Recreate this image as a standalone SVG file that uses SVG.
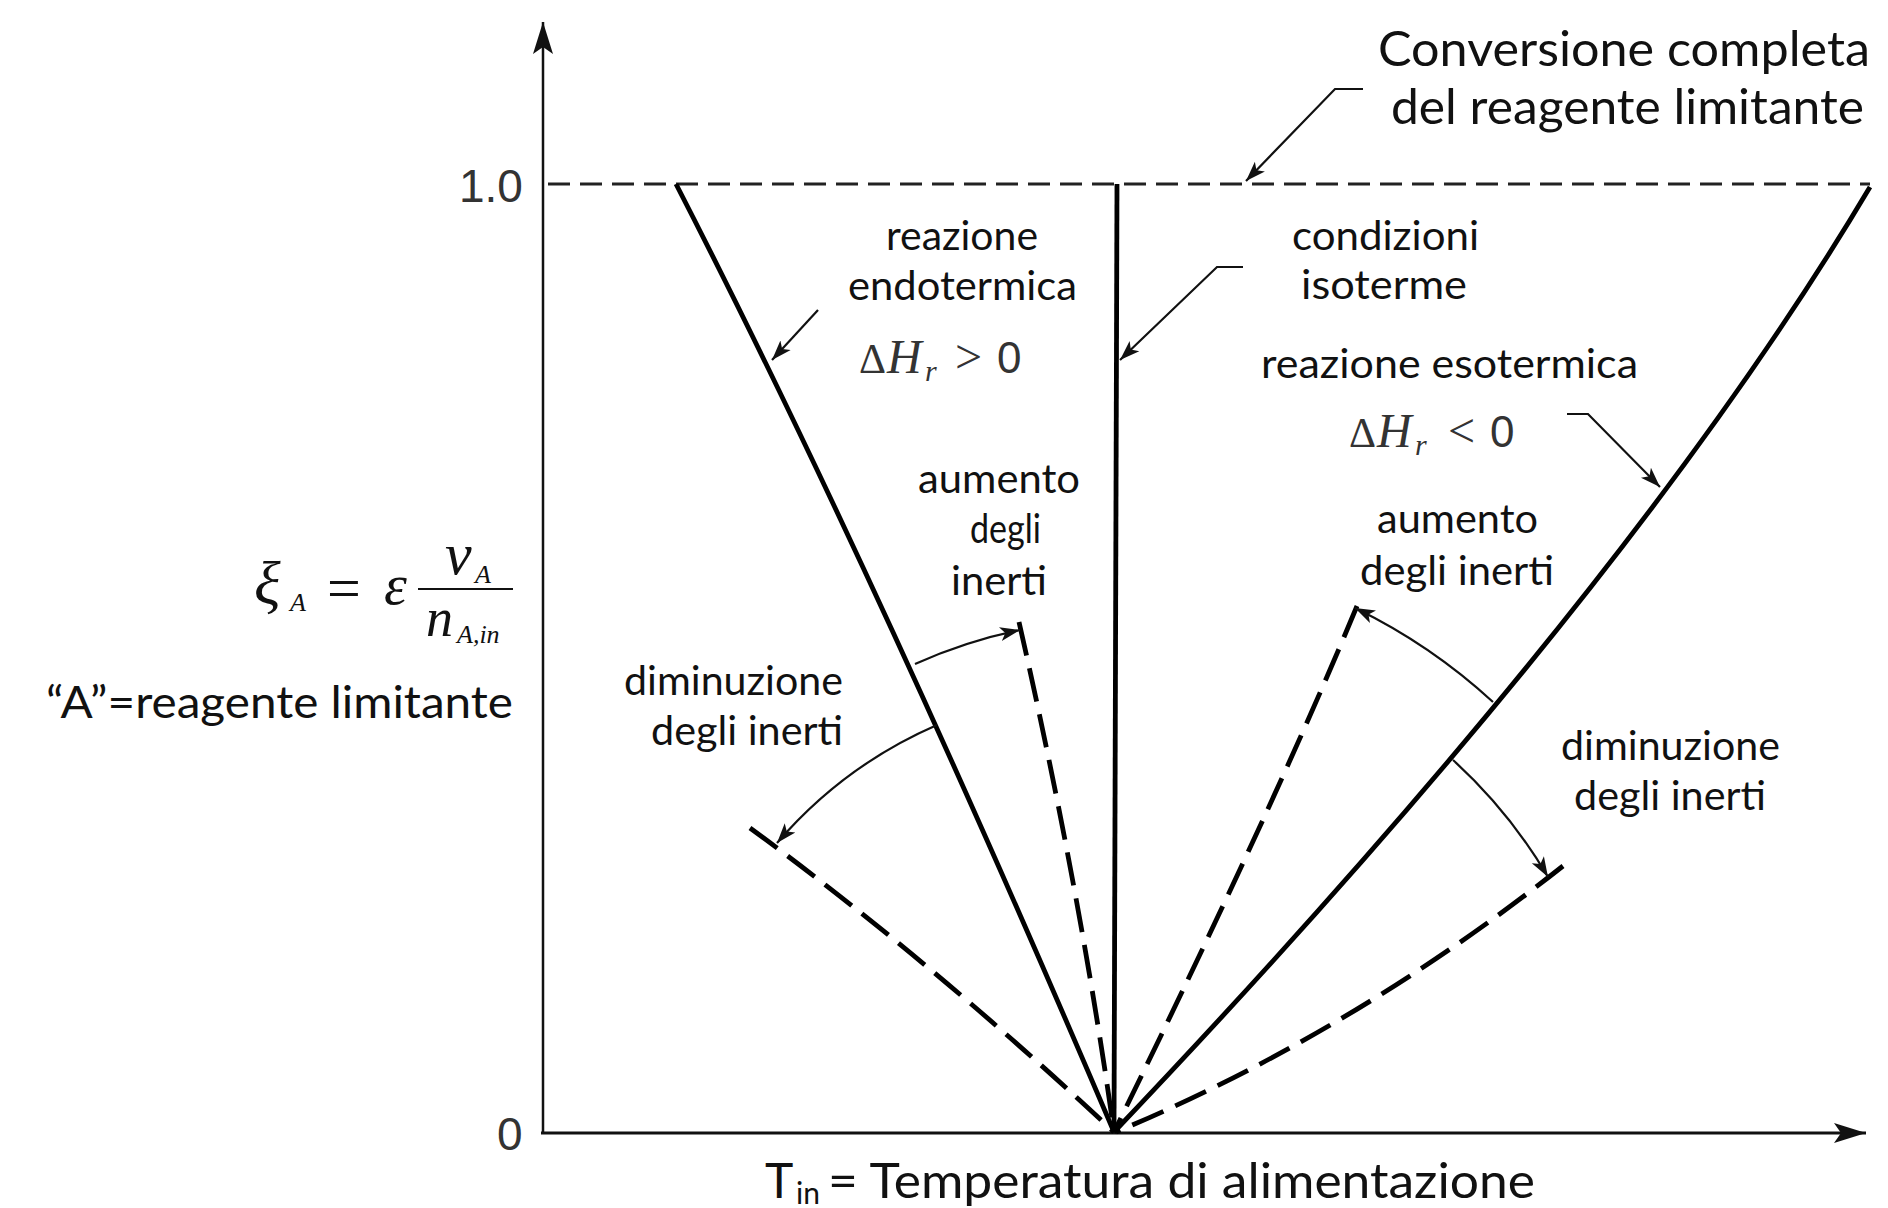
<svg xmlns="http://www.w3.org/2000/svg" width="1888" height="1208" viewBox="0 0 1888 1208">
<style>
.lbl{font-family:Lato,"Open Sans","Liberation Sans",sans-serif;font-size:40px;fill:#111}
.big{font-size:48px}
.num{font-family:"Liberation Sans",Arial,sans-serif;font-size:46px;fill:#333}
.math{font-family:"Liberation Serif","Times New Roman",serif;fill:#111}
.dh{font-family:"Liberation Serif","Times New Roman",serif;font-size:48px;fill:#333}
.axis{stroke:#111;stroke-width:2.5;fill:none}
.solid{stroke:#000;stroke-width:4.8;fill:none}
.dash{stroke:#000;stroke-width:4.8;fill:none;stroke-dasharray:34 13}
.hdash{stroke:#222;stroke-width:3;fill:none;stroke-dasharray:22 10}
.thin{stroke:#111;stroke-width:2.2;fill:none;marker-end:url(#ah)}
</style>
<defs>
<marker id="ah" markerUnits="userSpaceOnUse" markerWidth="22" markerHeight="16" refX="20" refY="8" orient="auto">
<path d="M0,1 L20,8 L0,15 L5,8 z" fill="#111"/>
</marker>
<marker id="axh" markerUnits="userSpaceOnUse" markerWidth="34" markerHeight="22" refX="32" refY="11" orient="auto">
<path d="M0,1 L32,11 L0,21 L7,11 z" fill="#111"/>
</marker>
</defs>
<rect width="1888" height="1208" fill="#fff"/>

<g id="axes">
<line class="axis" x1="543" y1="1133" x2="543" y2="22" style="marker-end:url(#axh)"/>
<line class="axis" x1="541" y1="1133" x2="1866" y2="1133" style="marker-end:url(#axh);stroke-width:3"/>
<text class="num" x="459" y="202">1.0</text>
<text class="num" x="497" y="1150">0</text>
</g>

<g id="connectors">
<line class="hdash" x1="548" y1="184" x2="1870" y2="184"/>
<path class="solid" d="M676,184 Q871,563 1114,1132"/>
<path class="solid" d="M1117,184 L1114,1132"/>
<path class="solid" d="M1870,187 Q1633,586 1114,1132"/>
<path class="dash" d="M750,828 Q930,960 1114,1132"/>
<path class="dash" d="M1019,622 Q1080,890 1114,1132"/>
<path class="dash" d="M1357,606 Q1275,804 1114,1132"/>
<path class="dash" d="M1563,866 Q1350,1034 1116,1132"/>
<path class="thin" d="M1363,89 L1335,89 L1246,181"/>
<path class="thin" d="M1243,267 L1217,267 L1120,360"/>
<path class="thin" d="M818,310 L772,360"/>
<path class="thin" d="M1567,414 L1588,414 L1660,487"/>
<path class="thin" d="M915,664 A509,509 0 0 1 1020,630"/>
<path class="thin" d="M937,725 A444,444 0 0 0 777,843"/>
<path class="thin" d="M1493,702 A575,575 0 0 0 1355,608"/>
<path class="thin" d="M1453,760 A503,503 0 0 1 1548,877"/>
</g>

<g id="title">
<text class="lbl big" x="1378" y="66" textLength="492" lengthAdjust="spacingAndGlyphs">Conversione completa</text>
<text class="lbl big" x="1391" y="124" textLength="473" lengthAdjust="spacingAndGlyphs">del reagente limitante</text>
</g>

<g id="endo-label">
<text class="lbl" x="886" y="250" textLength="152" lengthAdjust="spacingAndGlyphs">reazione</text>
<text class="lbl" x="848" y="300" textLength="229" lengthAdjust="spacingAndGlyphs">endotermica</text>
<text class="dh" y="373"><tspan x="859" font-size="42">Δ</tspan><tspan x="887" font-style="italic">H</tspan><tspan x="925" dy="8" font-style="italic" font-size="30">r</tspan><tspan x="955" dy="-8">&gt;</tspan><tspan x="997" font-family="Liberation Sans, sans-serif" font-size="44">0</tspan></text>
</g>

<g id="iso-label">
<text class="lbl" x="1292" y="250" textLength="187" lengthAdjust="spacingAndGlyphs">condizioni</text>
<text class="lbl" x="1301" y="299" textLength="166" lengthAdjust="spacingAndGlyphs">isoterme</text>
</g>

<g id="eso-label">
<text class="lbl" x="1261" y="378" textLength="377" lengthAdjust="spacingAndGlyphs">reazione esotermica</text>
<text class="dh" y="447"><tspan x="1349" font-size="42">Δ</tspan><tspan x="1377" font-style="italic">H</tspan><tspan x="1415" dy="8" font-style="italic" font-size="30">r</tspan><tspan x="1448" dy="-8">&lt;</tspan><tspan x="1490" font-family="Liberation Sans, sans-serif" font-size="44">0</tspan></text>
</g>

<g id="endo-aumento">
<text class="lbl" x="918" y="493" textLength="162" lengthAdjust="spacingAndGlyphs">aumento</text>
<text class="lbl" x="970" y="543" textLength="71" lengthAdjust="spacingAndGlyphs">degli</text>
<text class="lbl" x="951" y="595" textLength="96" lengthAdjust="spacingAndGlyphs">inerti</text>
</g>

<g id="endo-diminuzione">
<text class="lbl" x="624" y="695" textLength="219" lengthAdjust="spacingAndGlyphs">diminuzione</text>
<text class="lbl" x="651" y="745" textLength="192" lengthAdjust="spacingAndGlyphs">degli inerti</text>
</g>

<g id="eso-aumento">
<text class="lbl" x="1377" y="533" textLength="161" lengthAdjust="spacingAndGlyphs">aumento</text>
<text class="lbl" x="1360" y="585" textLength="194" lengthAdjust="spacingAndGlyphs">degli inerti</text>
</g>

<g id="eso-diminuzione">
<text class="lbl" x="1561" y="760" textLength="219" lengthAdjust="spacingAndGlyphs">diminuzione</text>
<text class="lbl" x="1574" y="810" textLength="192" lengthAdjust="spacingAndGlyphs">degli inerti</text>
</g>

<g id="formula">
<text class="math" x="254" y="604" font-size="62" font-style="italic">ξ</text>
<text class="math" x="290" y="611" font-size="26" font-style="italic">A</text>
<text class="math" x="327" y="608" font-size="60">=</text>
<text class="math" x="384" y="604" font-size="58" font-style="italic">ε</text>
<line x1="418" y1="589" x2="513" y2="589" stroke="#111" stroke-width="1.8"/>
<text class="math" x="445" y="574" font-size="60" font-style="italic">ν</text>
<text class="math" x="475" y="583" font-size="26" font-style="italic">A</text>
<text class="math" x="426" y="636" font-size="54" font-style="italic">n</text>
<text class="math" x="457" y="643" font-size="26" font-style="italic">A,in</text>
</g>

<g id="limit-note">
<text class="lbl" x="46" y="718" textLength="467" lengthAdjust="spacingAndGlyphs" style="font-size:44px">“A”=reagente limitante</text>
</g>

<g id="x-label">
<text class="lbl" y="1198" style="font-size:48px"><tspan x="765">T</tspan><tspan x="796" dy="6" style="font-size:30px">in</tspan><tspan x="828" dy="-6" textLength="707" lengthAdjust="spacingAndGlyphs">= Temperatura di alimentazione</tspan></text>
</g>
</svg>
